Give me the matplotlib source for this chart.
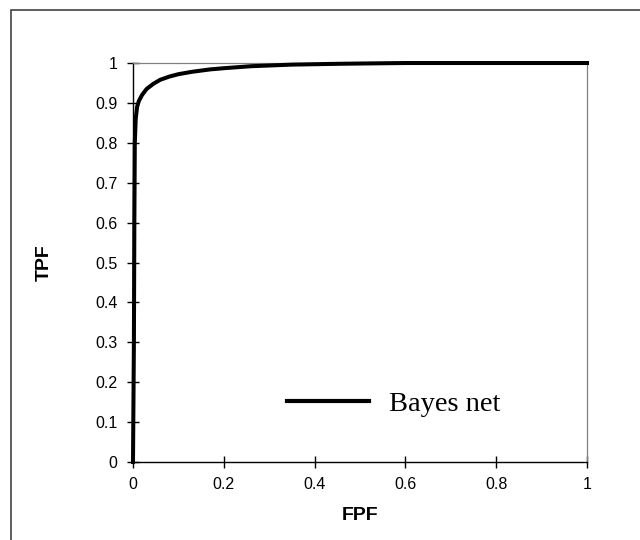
import matplotlib.pyplot as plt
from matplotlib.patches import Rectangle

# ROC curve
fpf = [0, 0.002, 0.003, 0.004, 0.006, 0.009, 0.013, 0.02, 0.03, 0.045, 0.06,
       0.08, 0.1, 0.13, 0.17, 0.2, 0.26, 0.35, 0.45, 0.52, 0.6, 0.8, 1.0]
tpf = [0, 0.3, 0.6, 0.80, 0.86, 0.89, 0.905, 0.92, 0.935, 0.948, 0.958,
       0.966, 0.972, 0.978, 0.984, 0.987, 0.992, 0.996, 0.998, 0.999, 1.0, 1.0, 1.0]
series_name = "Bayes net"
xticks = [0, 0.2, 0.4, 0.6, 0.8, 1]
yticks = [0, 0.1, 0.2, 0.3, 0.4, 0.5, 0.6, 0.7, 0.8, 0.9, 1]

plt.rcParams['font.family'] = ['Liberation Sans', 'DejaVu Sans']

fig = plt.figure(figsize=(6.4, 5.4), dpi=100)
ax = fig.add_axes([0.2078, 0.1444, 0.7094, 0.7389])

#outer frame around the whole chart (runs off the right and bottom edge)
fig.patches.append(Rectangle((11/640, -0.1), 1.2, 1 - 10/540 + 0.1,
                             transform=fig.transFigure, fill=False,
                             edgecolor='#333333', linewidth=1.1))

ax.plot(fpf, tpf, color='black', linewidth=2.9, label=series_name,
        clip_on=False, solid_joinstyle='round', zorder=3)

ax.set_xlim(0, 1)
ax.set_ylim(0, 1)
ax.set_xticks(xticks)
ax.set_yticks(yticks)
ax.set_xticklabels([f"{t:g}" for t in xticks])
ax.set_yticklabels([f"{t:g}" for t in yticks])
ax.tick_params(direction='inout', length=8, width=1, labelsize=11.5, pad=7,
               colors='black')

for side in ['top', 'right']:
    ax.spines[side].set_color('#808080')
    ax.spines[side].set_linewidth(0.9)
for side in ['left', 'bottom']:
    ax.spines[side].set_color('black')
    ax.spines[side].set_linewidth(1.0)

ax.set_xlabel("FPF", fontsize=14, fontweight='bold')
ax.set_ylabel("TPF", fontsize=14, fontweight='bold')
ax.xaxis.set_label_coords(0.5, -0.112)
ax.yaxis.set_label_coords(-0.176, 0.5)

leg = ax.legend(loc='center left', bbox_to_anchor=(0.339, 0.145), frameon=False,
                prop={'family': 'Liberation Serif', 'size': 20.5},
                handlelength=2.9, handletextpad=0.7, borderpad=0, borderaxespad=0)
leg.get_lines()[0].set_linewidth(3.0)

fig.savefig("out.png", dpi=100)
